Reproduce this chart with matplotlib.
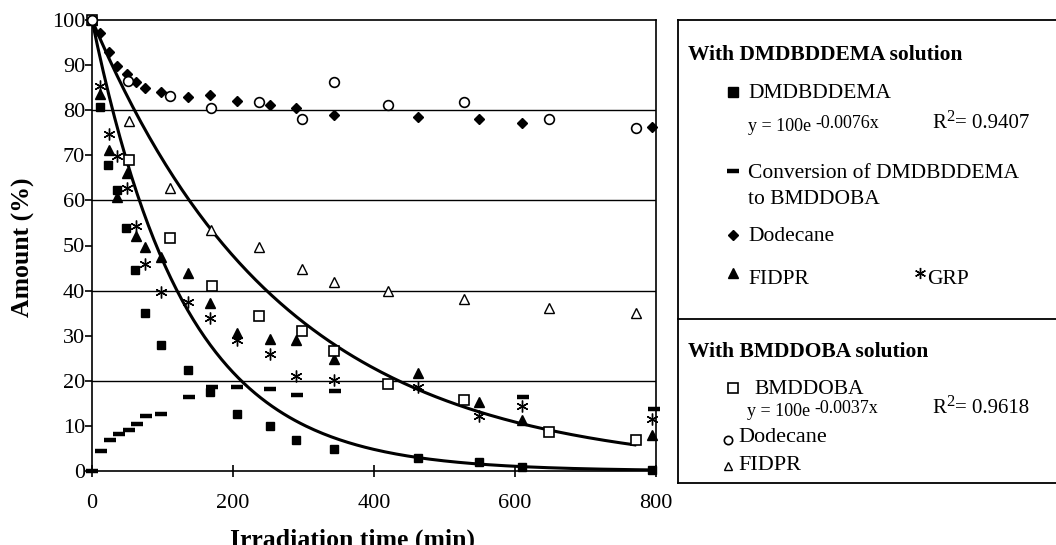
import numpy as np
import matplotlib
matplotlib.use("Agg")
import matplotlib.pyplot as plt
from matplotlib.lines import Line2D

plt.rcParams['font.family'] = ['Liberation Serif', 'DejaVu Serif']

# With DMDBDDEMA solution
t_dmd = [0, 12, 23, 35, 48, 61, 75, 98, 136, 168, 205, 252, 290, 343, 463, 549, 610, 795]
dmd = [100, 80.8, 67.9, 62.3, 53.8, 44.6, 35, 28, 22.4, 17.5, 12.6, 10, 6.9, 4.9, 2.8, 1.9, 0.8, 0.3]

t_conv = [0, 13, 26, 38, 52, 64, 77, 98, 137, 170, 206, 252, 291, 344, 611, 797]
conv = [0, 4.5, 6.9, 8.2, 9.2, 10.4, 12.3, 12.6, 16.5, 18.7, 18.7, 18.2, 16.9, 17.7, 16.5, 13.7]

t_dod1 = [0, 12, 24, 36, 50, 62, 75, 98, 136, 168, 206, 252, 290, 343, 462, 549, 610, 795]
dod1 = [100, 97.2, 93, 89.9, 88, 86.2, 85, 84.1, 83, 83.4, 82.1, 81.2, 80.4, 78.9, 78.4, 78, 77.1, 76.3]

t_fid1 = [0, 11, 24, 36, 50, 62, 75, 98, 136, 168, 206, 252, 290, 343, 462, 549, 610, 795]
fid1 = [100, 83.7, 71.2, 60.8, 66, 52, 49.7, 47.5, 43.8, 37.3, 30.7, 29.2, 29, 24.8, 21.7, 15.4, 11.2, 8]

t_grp = [12, 24, 36, 50, 62, 75, 98, 136, 168, 206, 252, 290, 343, 462, 549, 610, 795]
grp = [85.3, 74.7, 69.9, 62.8, 54.3, 46, 39.8, 37.4, 34, 29, 25.9, 21.1, 20.2, 18.6, 12.3, 14.5, 11.5]

# With BMDDOBA solution
t_bmd = [0, 52, 111, 170, 237, 298, 343, 420, 527, 648, 772]
bmd = [100, 69, 51.6, 41, 34.4, 31, 26.7, 19.4, 15.7, 8.7, 6.9]

t_dod2 = [0, 51, 111, 169, 237, 298, 343, 420, 527, 648, 772]
dod2 = [100, 86.5, 83.1, 80.4, 81.9, 78, 86.2, 81.2, 81.9, 78, 76.1]

t_fid2 = [52, 111, 169, 237, 298, 343, 420, 528, 648, 772]
fid2 = [77.7, 62.7, 53.4, 49.7, 44.8, 41.8, 40, 38.1, 36.2, 35.1]

# trendlines given in the legend: y = 100 e^(k x)
k_dmd, k_bmd = -0.0076, -0.0037

W, H = 1056, 545
fig = plt.figure(figsize=(W / 100, H / 100), dpi=100)


def fx(px):
    return px / W


def fy(py):
    return 1 - py / H


ax = fig.add_axes([fx(92), fy(471), fx(656) - fx(92), fy(20) - fy(471)])
ax.set_xlim(0, 800)
ax.set_ylim(0, 100)

for y in [20, 40, 60, 80]:
    ax.axhline(y, color='black', lw=1.0, zorder=1)

xx = np.linspace(0, 795, 200)
ax.plot(xx, 100 * np.exp(k_dmd * xx), color='black', lw=2.2, zorder=2)
xx2 = np.linspace(0, 770, 200)
ax.plot(xx2, 100 * np.exp(k_bmd * xx2), color='black', lw=2.2, zorder=2)

kw = dict(linestyle='none', color='black', clip_on=False, zorder=3)
ax.plot(t_dmd, dmd, marker='s', ms=6, **kw)
ax.plot(t_conv, conv, marker='_', ms=8, mew=3.2, **kw)
ax.plot(t_dod1, dod1, marker='D', ms=5.5, **kw)
ax.plot(t_fid1, fid1, marker='^', ms=7, **kw)
ax.plot(t_grp, grp, marker=(6, 2, 0), ms=8.5, mew=1.0, **kw)
ax.plot(t_bmd, bmd, marker='s', ms=7, mfc='white', mew=1.2, **kw)
ax.plot(t_dod2, dod2, marker='o', ms=7, mfc='white', mew=1.2, **kw)
ax.plot(t_fid2, fid2, marker='^', ms=7, mfc='white', mew=1.0, **kw)

for s in ax.spines.values():
    s.set_linewidth(1.2)

ax.set_xticks([0, 200, 400, 600, 800])
ax.set_yticks(range(0, 101, 10))
ax.tick_params(axis='x', direction='inout', length=9, width=1.2, pad=12, labelsize=16)
ax.tick_params(axis='y', direction='out', length=5, width=1.2, pad=0, labelsize=16)

fig.text(fx(352), fy(529), 'Irradiation time (min)', fontsize=18.5, fontweight='bold',
         ha='center', va='top')
fig.text(fx(23), fy(247), 'Amount (%)', fontsize=18.5, fontweight='bold',
         ha='center', va='center', rotation=90)

# legend box on the right
lk = dict(color='black', lw=1.3, transform=fig.transFigure)
fig.add_artist(Line2D([fx(678), fx(678)], [fy(20), fy(483)], **lk))
for py in [20, 319, 483]:
    fig.add_artist(Line2D([fx(678), 1.0], [fy(py), fy(py)], **lk))


def mark(px, py, **m):
    fig.add_artist(Line2D([fx(px)], [fy(py)], linestyle='none', color='black',
                          transform=fig.transFigure, **m))


def txt(px, py, s, size=15.5, **t):
    return fig.text(fx(px), fy(py), s, fontsize=size, va='baseline', ha='left', **t)


def equation(px, py, expo, r2):
    a = txt(px, py, 'y = 100e', size=13)
    plt.annotate(expo, xy=(1, 0), xycoords=a, xytext=(3, 2.5),
                 textcoords='offset points', fontsize=13, va='bottom', ha='left')
    txt(932, py - 3, 'R', size=15)
    txt(946, py - 10, '2', size=12)
    txt(955, py - 3, '= ' + r2, size=15)


txt(688, 60, 'With DMDBDDEMA solution', size=15.5, fontweight='bold')
mark(733, 92, marker='s', ms=7)
txt(748, 98, 'DMDBDDEMA')
equation(748, 131, '-0.0076x', '0.9407')
mark(733, 171, marker='_', ms=9, mew=3.2)
txt(748, 178, 'Conversion of DMDBDDEMA')
txt(748, 204, 'to BMDDOBA')
mark(733, 235, marker='D', ms=5.5)
txt(748, 241, 'Dodecane')
mark(733, 273, marker='^', ms=6.5)
txt(748, 284, 'FIDPR')
mark(920, 273, marker=(6, 2, 0), ms=8, mew=1.0)
txt(927, 284, 'GRP')

txt(688, 357, 'With BMDDOBA solution', size=15.5, fontweight='bold')
mark(733, 388, marker='s', ms=7, mfc='white', mew=1.2)
txt(754, 394, 'BMDDOBA')
equation(747, 416, '-0.0037x', '0.9618')
mark(728, 440, marker='o', ms=6, mfc='white', mew=1.2)
txt(738, 442, 'Dodecane', size=16)
mark(728, 466, marker='^', ms=6, mfc='white', mew=1.0)
txt(738, 470, 'FIDPR', size=16)

fig.savefig('out.png', dpi=100)
